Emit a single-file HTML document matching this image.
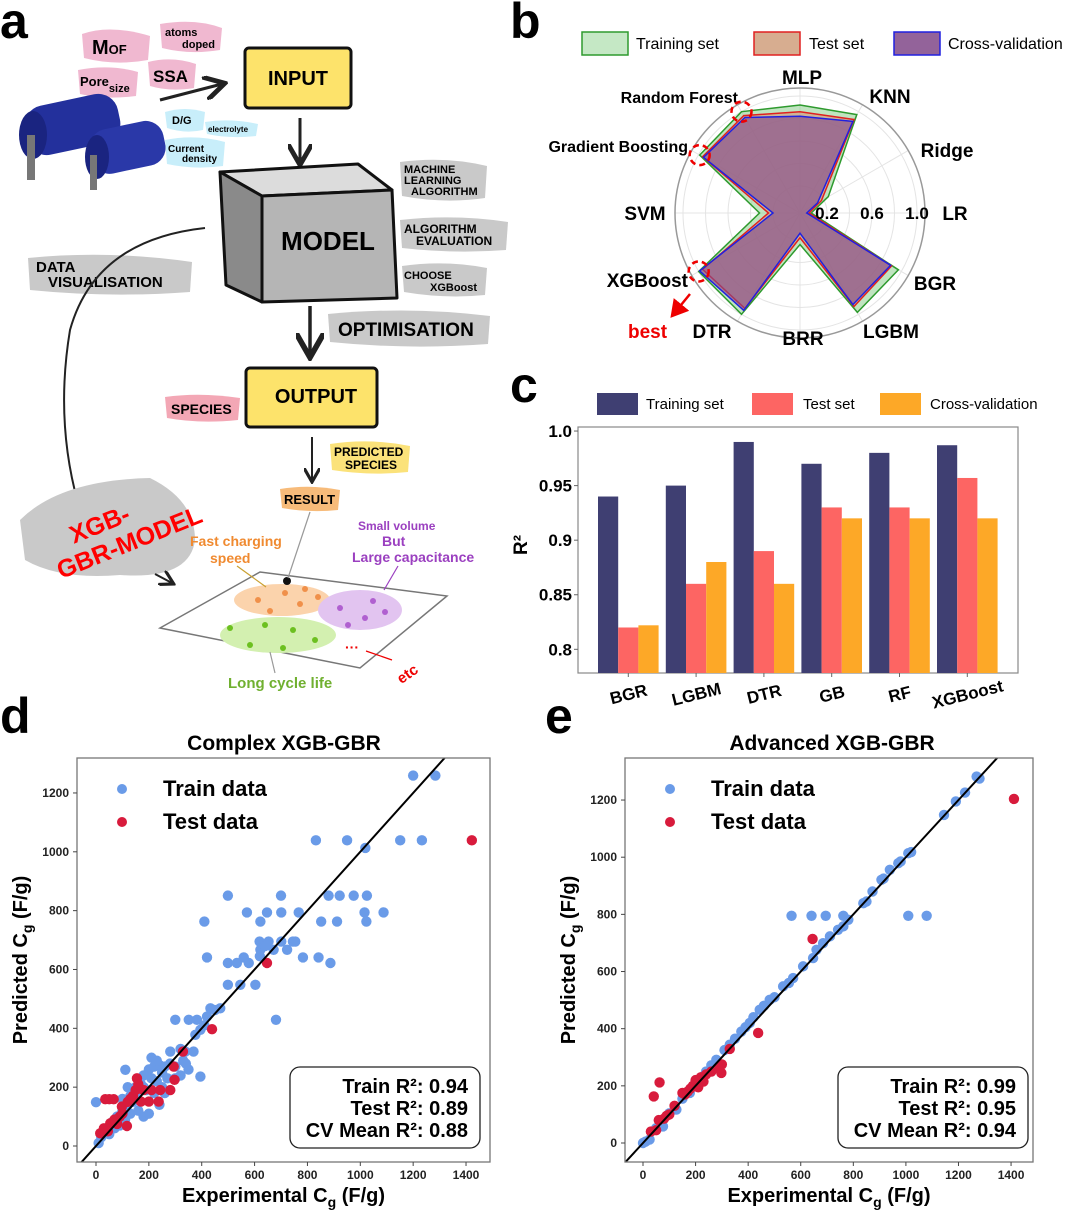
<!DOCTYPE html>
<html><head><meta charset="utf-8">
<style>
html,body{margin:0;padding:0;background:#fff;}
svg{display:block;font-family:"Liberation Sans",sans-serif;}
.b{font-weight:bold;}
</style></head>
<body>
<svg id="fig" width="1080" height="1210" viewBox="0 0 1080 1210" xmlns="http://www.w3.org/2000/svg">
<defs>
<marker id="ah" markerWidth="8" markerHeight="8" refX="6" refY="4" orient="auto"><path d="M0,0 L7,4 L0,8" fill="none" stroke="#222" stroke-width="1.6"/></marker>
<marker id="ahr" markerWidth="8" markerHeight="8" refX="6" refY="4" orient="auto"><path d="M0,0 L7,4 L0,8 z" fill="#e00"/></marker>
<clipPath id="clipd"><rect x="77" y="758" width="413" height="404"/></clipPath>
<clipPath id="clipe"><rect x="625" y="758" width="408" height="404"/></clipPath>
</defs>

<!-- ================= PANEL A ================= -->
<g>
<text x="0" y="38" font-size="50" class="b">a</text>
<path d="M82,34 Q110,24 150,36 L148,60 Q115,66 84,58 z" fill="#f0b8d0"/>
<text x="92" y="54" font-size="20" class="b">M<tspan font-size="13">OF</tspan></text>
<path d="M160,24 Q195,18 222,28 L220,50 Q190,55 162,48 z" fill="#f0b8d0"/>
<text x="165" y="36" font-size="11" class="b">atoms</text>
<text x="182" y="48" font-size="11" class="b">doped</text>
<path d="M78,70 Q110,64 138,72 L136,96 Q105,100 80,94 z" fill="#f0b8d0"/>
<text x="80" y="86" font-size="13" class="b">Pore<tspan font-size="11" dy="6">size</tspan></text>
<path d="M148,62 Q172,56 196,64 L194,88 Q170,92 150,86 z" fill="#f0b8d0"/>
<text x="153" y="82" font-size="17" class="b">SSA</text>
<line x1="160" y1="100" x2="222" y2="84" stroke="#222" stroke-width="3" marker-end="url(#ah)"/>
<rect x="245" y="48" width="106" height="60" rx="4" fill="#fde36b" stroke="#111" stroke-width="3"/>
<text x="298" y="85" font-size="20" class="b" text-anchor="middle">INPUT</text>
<!-- capacitors -->
<g>
<rect x="25" y="100" width="95" height="50" rx="20" fill="#23309c" transform="rotate(-12 70 125)"/>
<ellipse cx="33" cy="135" rx="14" ry="24" fill="#1a2480"/>
<rect x="27" y="135" width="8" height="45" fill="#777"/>
<rect x="90" y="125" width="75" height="45" rx="18" fill="#2a38a8" transform="rotate(-12 127 147)"/>
<ellipse cx="97" cy="157" rx="12" ry="22" fill="#1a2480"/>
<rect x="90" y="155" width="7" height="35" fill="#777"/>
</g>
<path d="M165,112 Q185,106 205,112 L203,130 Q185,134 167,128 z" fill="#c8eefa"/>
<text x="172" y="124" font-size="11" class="b">D/G</text>
<path d="M205,122 Q230,118 258,124 L256,136 Q230,139 207,134 z" fill="#c8eefa"/>
<text x="208" y="132" font-size="8" class="b">electrolyte</text>
<path d="M165,140 Q195,134 225,142 L223,166 Q195,170 167,164 z" fill="#c8eefa"/>
<text x="168" y="152" font-size="10" class="b">Current</text>
<text x="182" y="162" font-size="10" class="b">density</text>
<line x1="300" y1="118" x2="300" y2="162" stroke="#222" stroke-width="3" marker-end="url(#ah)"/>
<!-- cube -->
<g stroke="#111" stroke-width="3" stroke-linejoin="round">
<polygon points="220,172 358,164 392,190 262,196" fill="#dcdcdc"/>
<polygon points="220,172 262,196 262,302 226,285" fill="#8a8a8a"/>
<polygon points="262,196 392,190 397,298 262,302" fill="#b5b5b5"/>
</g>
<text x="328" y="250" font-size="26" class="b" text-anchor="middle">MODEL</text>
<path d="M400,162 Q445,156 487,166 L485,198 Q445,204 402,196 z" fill="#c9c9c9"/>
<text x="404" y="173" font-size="11" class="b">MACHINE</text>
<text x="404" y="184" font-size="11" class="b">LEARNING</text>
<text x="411" y="195" font-size="11" class="b">ALGORITHM</text>
<path d="M400,220 Q455,214 508,222 L506,250 Q455,254 402,248 z" fill="#c9c9c9"/>
<text x="404" y="233" font-size="12" class="b">ALGORITHM</text>
<text x="416" y="245" font-size="12" class="b">EVALUATION</text>
<path d="M402,266 Q445,260 487,268 L485,295 Q445,299 404,292 z" fill="#c9c9c9"/>
<text x="404" y="279" font-size="11" class="b">CHOOSE</text>
<text x="430" y="291" font-size="11" class="b">XGBoost</text>
<path d="M28,258 Q110,250 192,262 L190,292 Q110,298 30,290 z" fill="#c9c9c9"/>
<text x="36" y="272" font-size="15" class="b">DATA</text>
<text x="48" y="287" font-size="15" class="b">VISUALISATION</text>
<line x1="310" y1="306" x2="310" y2="354" stroke="#222" stroke-width="3.5" marker-end="url(#ah)"/>
<path d="M328,314 Q410,306 490,316 L488,344 Q410,350 330,342 z" fill="#c9c9c9"/>
<text x="338" y="336" font-size="19" class="b">OPTIMISATION</text>
<rect x="246" y="368" width="131" height="59" rx="4" fill="#fde36b" stroke="#111" stroke-width="3"/>
<text x="316" y="403" font-size="20" class="b" text-anchor="middle">OUTPUT</text>
<path d="M165,397 Q200,392 240,398 L238,420 Q200,424 167,418 z" fill="#f3a7b5"/>
<text x="171" y="414" font-size="14" class="b">SPECIES</text>
<line x1="312" y1="437" x2="312" y2="480" stroke="#222" stroke-width="2" marker-end="url(#ah)"/>
<path d="M330,444 Q370,438 410,446 L408,472 Q370,476 332,470 z" fill="#fbe27a"/>
<text x="334" y="456" font-size="12" class="b">PREDICTED</text>
<text x="345" y="469" font-size="12" class="b">SPECIES</text>
<path d="M280,489 Q310,484 340,490 L338,510 Q310,513 282,508 z" fill="#f7bb7a"/>
<text x="284" y="504" font-size="13" class="b">RESULT</text>
<path d="M205,228 Q95,240 70,330 Q55,420 78,503" fill="none" stroke="#222" stroke-width="2"/>
<path d="M20,520 Q60,480 150,478 Q195,500 195,540 Q190,580 120,575 Q60,580 25,560 z" fill="#c9c9c9"/>
<g transform="rotate(-22 110 540)">
<text x="75" y="530" font-size="25" class="b" fill="#f00">XGB-</text>
<text x="50" y="558" font-size="25" class="b" fill="#f00">GBR-MODEL</text>
</g>
<line x1="155" y1="574" x2="172" y2="583" stroke="#222" stroke-width="2" marker-end="url(#ah)"/>
<polygon points="160,628 260,572 447,596 360,668" fill="#fff" stroke="#777" stroke-width="1.5"/>
<ellipse cx="282" cy="600" rx="48" ry="16" fill="#fbd3ac"/>
<ellipse cx="360" cy="610" rx="42" ry="20" fill="#e2c4f0"/>
<ellipse cx="278" cy="635" rx="58" ry="18" fill="#d3f0b0"/>
<g fill="#f0904a"><circle cx="258" cy="600" r="3"/><circle cx="285" cy="593" r="3"/><circle cx="300" cy="604" r="3"/><circle cx="318" cy="597" r="3"/><circle cx="270" cy="611" r="3"/><circle cx="305" cy="589" r="3"/></g>
<g fill="#b060d0"><circle cx="340" cy="608" r="3"/><circle cx="373" cy="601" r="3"/><circle cx="385" cy="612" r="3"/><circle cx="365" cy="618" r="3"/><circle cx="348" cy="625" r="3"/></g>
<g fill="#6cc020"><circle cx="230" cy="628" r="3"/><circle cx="265" cy="625" r="3"/><circle cx="293" cy="630" r="3"/><circle cx="250" cy="645" r="3"/><circle cx="283" cy="648" r="3"/><circle cx="315" cy="640" r="3"/></g>
<circle cx="287" cy="581" r="4" fill="#111"/>
<line x1="310" y1="512" x2="288" y2="578" stroke="#999" stroke-width="1.2"/>
<text x="190" y="546" font-size="14" fill="#f08a30" class="b">Fast charging</text>
<text x="210" y="563" font-size="14" fill="#f08a30" class="b">speed</text>
<line x1="237" y1="566" x2="266" y2="587" stroke="#c9a030" stroke-width="1.2"/>
<text x="358" y="530" font-size="12" fill="#9b40c0" class="b">Small volume</text>
<text x="382" y="546" font-size="14" fill="#9b40c0" class="b">But</text>
<text x="352" y="562" font-size="14" fill="#9b40c0" class="b">Large capacitance</text>
<line x1="398" y1="566" x2="384" y2="590" stroke="#9b40c0" stroke-width="1.2"/>
<text x="228" y="688" font-size="15" fill="#70b030" class="b">Long cycle life</text>
<line x1="270" y1="652" x2="275" y2="673" stroke="#999" stroke-width="1.2"/>
<text x="345" y="652" font-size="14" fill="#e00" class="b">···</text>
<line x1="366" y1="651" x2="392" y2="660" stroke="#e00" stroke-width="1.2"/>
<text x="395" y="680" font-size="15" fill="#e00" class="b" transform="rotate(-35 405 672)">etc</text>
</g>

<!-- ================= PANEL B (radar) ================= -->
<text x="510" y="38" font-size="50" class="b">b</text>
<g>
<rect x="582" y="32" width="46" height="23" fill="#c5e8c5" stroke="#2e9a2e" stroke-width="1.5"/>
<text x="636" y="49" font-size="16">Training set</text>
<rect x="754" y="32" width="46" height="23" fill="#d7ad90" stroke="#e02020" stroke-width="1.5"/>
<text x="809" y="49" font-size="16">Test set</text>
<rect x="894" y="32" width="46" height="23" fill="#93639a" stroke="#2020e0" stroke-width="1.5"/>
<text x="948" y="49" font-size="16">Cross-validation</text>
</g>
<g id="radar"></g>

<!-- ================= PANEL C (bars) ================= -->
<text x="510" y="402" font-size="50" class="b">c</text>
<g>
<rect x="597" y="393" width="41" height="22" fill="#3f3f72"/>
<text x="646" y="409" font-size="15">Training set</text>
<rect x="752" y="393" width="41" height="22" fill="#fd6563"/>
<text x="803" y="409" font-size="15">Test set</text>
<rect x="880" y="393" width="41" height="22" fill="#fda827"/>
<text x="930" y="409" font-size="15">Cross-validation</text>
</g>
<g id="bars"></g>

<!-- ================= PANELS D, E ================= -->
<text x="0" y="733" font-size="50" class="b">d</text>
<text x="545" y="733" font-size="50" class="b">e</text>
<g id="scatd"></g>
<g id="scate"></g>
</svg>

<script>
// ---------- radar data ----------
const radarCats = ["LR","Ridge","KNN","MLP","Random Forest","Gradient Boosting","SVM","XGBoost","DTR","BRR","LGBM","BGR"];
const radarTrain = [0.06,0.25,0.97,0.92,1.00,0.99,0.32,1.00,1.00,0.24,0.98,0.97];
const radarTest  = [0.04,0.18,0.92,0.86,0.96,0.96,0.24,0.96,0.94,0.18,0.92,0.90];
const radarCV    = [0.02,0.14,0.90,0.82,0.94,0.95,0.20,0.99,0.96,0.14,0.90,0.89];
const radarTicks = [0.2,0.6,1.0];

// ---------- bar data ----------
const barCats = ["BGR","LGBM","DTR","GB","RF","XGBoost"];
const barTrain = [0.94,0.95,0.99,0.97,0.98,0.987];
const barTest  = [0.82,0.86,0.89,0.93,0.93,0.957];
const barCV    = [0.822,0.88,0.86,0.92,0.92,0.92];
const barTicks = [0.8,0.85,0.9,0.95,1.0];
const barTickLabels = ["0.8","0.85","0.9","0.95","1.0"];

// ---------- scatter data ----------
const dTrain = [[1200,1259],[1284,1259],[832,1039],[950,1039],[1019,1013],[1151,1039],[1233,1039],
[499,851],[700,851],[880,851],[922,851],[975,851],[1025,851],
[571,794],[647,794],[701,794],[767,794],[1016,794],[1088,794],
[410,763],[622,763],[852,763],[912,763],[1023,763],
[619,695],[653,695],[701,695],[745,695],[754,695],[622,667],[672,667],[723,667],[640,680],
[420,641],[559,641],[783,641],[842,641],[620,645],[499,622],[533,622],[578,622],[887,622],
[499,548],[546,548],[603,548],[300,429],[351,429],[382,429],[681,429],
[433,468],[470,468],[450,462],[420,440],[376,378],[395,395],[410,410],
[281,321],[338,321],[369,321],[320,330],[395,236],[111,259],[0,149],
[200,260],[220,270],[240,275],[260,270],[180,240],[210,230],[250,250],[280,280],[300,270],[330,290],[350,260],
[150,200],[170,210],[190,190],[230,220],[270,230],[130,170],[140,150],[120,140],[100,120],[80,100],[60,80],
[40,60],[20,30],[10,10],[50,40],[70,60],[90,70],[110,90],[130,110],[160,120],[180,100],[200,110],[240,140],
[260,180],[300,230],[320,240],[340,280],[230,290],[210,300],[180,200],[150,180],[120,200],[100,160],[250,200],[220,180]];
const dTest = [[647,622],[1422,1039],[439,397],[329,321],[294,270],[297,225],[35,159],[50,159],[67,159],[117,68],
[155,230],[180,190],[210,190],[243,190],[281,190],[237,151],[200,151],[170,151],[98,134],[16,43],[30,60],[54,77],
[70,90],[90,100],[120,150],[140,170],[150,190],[160,210],[100,110],[80,75],[45,50],[130,160]];
const eTrain = [[1269,1282],[1280,1275],[1225,1226],[1190,1195],[1145,1148],[1009,1014],[1020,1018],[971,979],[980,985],[939,956],
[907,921],[915,925],[873,880],[838,839],[850,845],[781,781],[762,758],[742,746],[711,723],[685,699],[660,676],[647,647],
[609,618],[571,577],[555,560],[533,548],[500,510],[482,501],[460,480],[444,466],[420,440],[406,420],[390,405],[374,390],
[350,365],[330,344],[310,325],[279,291],[260,272],[240,250],[228,233],[200,208],[178,175],[150,155],[127,117],[100,104],
[76,58],[50,52],[25,12],[10,5],[0,0],
[565,795],[641,795],[695,795],[762,795],[1009,795],[1079,795]];
const eTest = [[1411,1204],[645,714],[438,385],[330,329],[41,163],[63,212],[298,245],[300,275],[290,260],[240,240],[220,230],
[200,220],[180,190],[160,170],[150,175],[120,130],[100,100],[80,85],[60,80],[30,40],[50,45],[90,95],[170,180],[190,200],
[230,215],[260,250],[210,195]];
const scatTicks = [0,200,400,600,800,1000,1200,1400];
const scatYTicks = [0,200,400,600,800,1000,1200];
const statsD = ["Train R²: 0.94","Test R²: 0.89","CV Mean R²: 0.88"];
const statsE = ["Train R²: 0.99","Test R²: 0.95","CV Mean R²: 0.94"];

const NS="http://www.w3.org/2000/svg";
function mk(tag, attrs, parent){const e=document.createElementNS(NS,tag);for(const k in attrs)e.setAttribute(k,attrs[k]);parent.appendChild(e);return e;}

// ---------- radar ----------
(function(){
  const g=document.getElementById('radar');
  const cx=800, cy=213;
  const r = v => 4.5 + 112.5*v;
  const ang = i => -i*Math.PI*2/radarCats.length; // LR at 0 deg, counter-clockwise
  const pt = (i,v) => [cx + r(v)*Math.cos(ang(i)), cy + r(v)*Math.sin(ang(i))];
  [0.2,0.4,0.6,0.8,1.0].forEach(v=>{
    const c=mk('circle',{cx:cx,cy:cy,r:r(v),fill:'none',stroke:'#e4e4e4','stroke-width':1},g);
    
    
  });
  radarCats.forEach((c,i)=>{
    const p=pt(i,1.07);
    const l=mk('line',{x1:cx,y1:cy,x2:p[0],y2:p[1],stroke:'#e4e4e4','stroke-width':1},g);
    
    
  });
  const outer=mk('circle',{cx:cx,cy:cy,r:125,fill:'none',stroke:'#999','stroke-width':1.5},g);
  
  
  const series=[[radarTrain,'rgba(140,205,140,0.55)','#2e9a2e','radar-training'],
                [radarTest,'rgba(215,150,120,0.6)','#e02020','radar-test'],
                [radarCV,'rgba(130,70,140,0.62)','#2020e0','radar-cv']];
  series.forEach(s=>{
    const pts=s[0].map((v,i)=>pt(i,v).join(',')).join(' ');
    const p=mk('polygon',{points:pts,fill:s[1],stroke:s[2],'stroke-width':1.5},g);
    
    
  });
  radarTicks.forEach(v=>{
    const t=mk('text',{x:cx+r(v),y:cy+6,'font-size':17,'font-weight':'bold','text-anchor':'middle'},g);
    t.textContent=v.toFixed(1);
    
    
  });
  const labelPos={"LR":[955,220,'middle'],"Ridge":[947,157,'middle'],"KNN":[890,103,'middle'],"MLP":[802,84,'middle'],
    "Random Forest":[738,103,'end'],"Gradient Boosting":[688,152,'end'],"SVM":[645,220,'middle'],"XGBoost":[688,287,'end'],
    "DTR":[712,338,'middle'],"BRR":[803,345,'middle'],"LGBM":[891,338,'middle'],"BGR":[935,290,'middle']};
  radarCats.forEach(c=>{
    const lp=labelPos[c];
    const big = (c.length<=7 && c!=="XGBoost") || c==="XGBoost";
    const t=mk('text',{x:lp[0],y:lp[1],'font-size':(c==="Random Forest"||c==="Gradient Boosting")?16:19,'font-weight':'bold','text-anchor':lp[2]},g);
    t.textContent=c;
    
    
  });
  // highlight circles
  [4,5,7].forEach(i=>{
    const p=pt(i,radarTrain[i]);
    const c=mk('circle',{cx:p[0],cy:p[1],r:10,fill:'none',stroke:'#e00','stroke-width':2.5,'stroke-dasharray':'6,4'},g);
    
    
  });
  const a=mk('line',{x1:690,y1:294,x2:672,y2:316,stroke:'#e00','stroke-width':2.5,'marker-end':'url(#ahr)'},g);
  
  
  const b=mk('text',{x:628,y:338,'font-size':19,'font-weight':'bold',fill:'#e00'},g);
  b.textContent='best';
  
  
})();

// ---------- bars ----------
(function(){
  const g=document.getElementById('bars');
  const L=578,R=1018,T=427,B=673, vmin=0.7783, vmax=1.0037;
  const y=v=>B-(v-vmin)/(vmax-vmin)*(B-T);
  const band=67.8, bw=20.2, x0=598;
  const gx=i=>x0+i*band;
  const fr=mk('rect',{x:L,y:T,width:R-L,height:B-T,fill:'none',stroke:'#888','stroke-width':1.2},g);
  
  
  const sets=[[barTrain,'#3f3f72','bar-training'],[barTest,'#fd6563','bar-test'],[barCV,'#fda827','bar-cv']];
  barCats.forEach((c,i)=>{
    sets.forEach((s,k)=>{
      const v=s[0][i];
      const r=mk('rect',{x:gx(i)+k*bw,y:y(v),width:bw,height:B-y(v),fill:s[1]},g);
      
      
    });
    const cxp=gx(i)+1.5*bw;
    mk('line',{x1:cxp,y1:B,x2:cxp,y2:B+4,stroke:'#666'},g);
    const t=mk('text',{x:cxp,y:B+27,'font-size':17,'font-weight':'bold','text-anchor':'middle',transform:`rotate(-14 ${cxp} ${B+20})`},g);
    t.textContent=c;
    
    
  });
  barTicks.forEach((v,i)=>{
    mk('line',{x1:L-4,y1:y(v),x2:L,y2:y(v),stroke:'#666'},g);
    const t=mk('text',{x:L-6,y:y(v)+6,'font-size':17,'font-weight':'bold','text-anchor':'end'},g);
    t.textContent=barTickLabels[i];
    
    
  });
  const yl=mk('text',{x:527,y:545,'font-size':19,'font-weight':'bold','text-anchor':'middle',transform:'rotate(-90 527 545)'},g);
  yl.textContent='R²';
  
  
})();

// ---------- scatter ----------
function scatter(id, cfg){
  const g=document.getElementById(id);
  const {L,R,T,B,x0px,xs,y0px,ys,clip,title,tcx,train,test,stats,boxX,boxR,legX}=cfg;
  const X=v=>x0px+v*xs, Y=v=>y0px-v*ys;
  const t=mk('text',{x:tcx,y:750,'font-size':21,'font-weight':'bold','text-anchor':'middle'},g);
  t.textContent=title;
  
  
  const pg=mk('g',{'clip-path':`url(#${clip})`},g);
  train.forEach(p=>{
    const c=mk('circle',{cx:X(p[0]),cy:Y(p[1]),r:5.2,fill:'#6a9be8'},pg);
    
    
  });
  test.forEach(p=>{
    const c=mk('circle',{cx:X(p[0]),cy:Y(p[1]),r:5.2,fill:'#d81b3c'},pg);
    
    
  });
  const lo=-200, hi=1600;
  const dl=mk('line',{x1:X(lo),y1:Y(lo),x2:X(hi),y2:Y(hi),stroke:'#000','stroke-width':2},pg);
  
  
  const fr=mk('rect',{x:L,y:T,width:R-L,height:B-T,fill:'none',stroke:'#777','stroke-width':1.3},g);
  
  
  scatTicks.forEach(v=>{
    mk('line',{x1:X(v),y1:B,x2:X(v),y2:B+4,stroke:'#444'},g);
    const tx=mk('text',{x:X(v),y:B+17,'font-size':12,'font-weight':'bold','text-anchor':'middle',fill:'#222'},g);
    tx.textContent=v;
    
    
  });
  scatYTicks.forEach(v=>{
    mk('line',{x1:L-4,y1:Y(v),x2:L,y2:Y(v),stroke:'#444'},g);
    const ty=mk('text',{x:L-8,y:Y(v)+4,'font-size':12,'font-weight':'bold','text-anchor':'end',fill:'#222'},g);
    ty.textContent=v;
    
    
  });
  const xl=mk('text',{x:(L+R)/2,y:1202,'font-size':20,'font-weight':'bold','text-anchor':'middle'},g);
  xl.innerHTML='Experimental C<tspan font-size="14" dy="5">g</tspan><tspan dy="-5"> (F/g)</tspan>';
  
  
  const ycx=L-50, ycy=(T+B)/2;
  const yl=mk('text',{x:ycx,y:ycy,'font-size':20,'font-weight':'bold','text-anchor':'middle',transform:`rotate(-90 ${ycx} ${ycy})`},g);
  yl.innerHTML='Predicted C<tspan font-size="14" dy="5">g</tspan><tspan dy="-5"> (F/g)</tspan>';
  
  
  // legend
  const l1=mk('circle',{cx:legX,cy:789,r:5,fill:'#6a9be8'},g);
  
  
  const lt1=mk('text',{x:legX+41,y:796,'font-size':22,'font-weight':'bold'},g);
  lt1.textContent='Train data';
  
  
  const l2=mk('circle',{cx:legX,cy:822,r:5,fill:'#d81b3c'},g);
  
  
  const lt2=mk('text',{x:legX+41,y:829,'font-size':22,'font-weight':'bold'},g);
  lt2.textContent='Test data';
  
  
  const bx=mk('rect',{x:boxX,y:1067,width:boxR-boxX,height:81,rx:10,fill:'#fff',stroke:'#222','stroke-width':1.3},g);
  
  
  stats.forEach((s,i)=>{
    const st=mk('text',{x:boxR-12,y:1093+i*22,'font-size':20,'font-weight':'bold','text-anchor':'end'},g);
    st.textContent=s;
    
    
  });
}
scatter('scatd',{L:77,R:490,T:758,B:1162,x0px:96,xs:0.2643,y0px:1146,ys:0.2942,clip:'clipd',title:'Complex XGB-GBR',tcx:284,train:dTrain,test:dTest,stats:statsD,boxX:290,boxR:480,legX:122});
scatter('scate',{L:625,R:1033,T:758,B:1162,x0px:643,xs:0.2629,y0px:1143,ys:0.2858,clip:'clipe',title:'Advanced XGB-GBR',tcx:832,train:eTrain,test:eTest,stats:statsE,boxX:838,boxR:1028,legX:670});
</script>
</body></html>
